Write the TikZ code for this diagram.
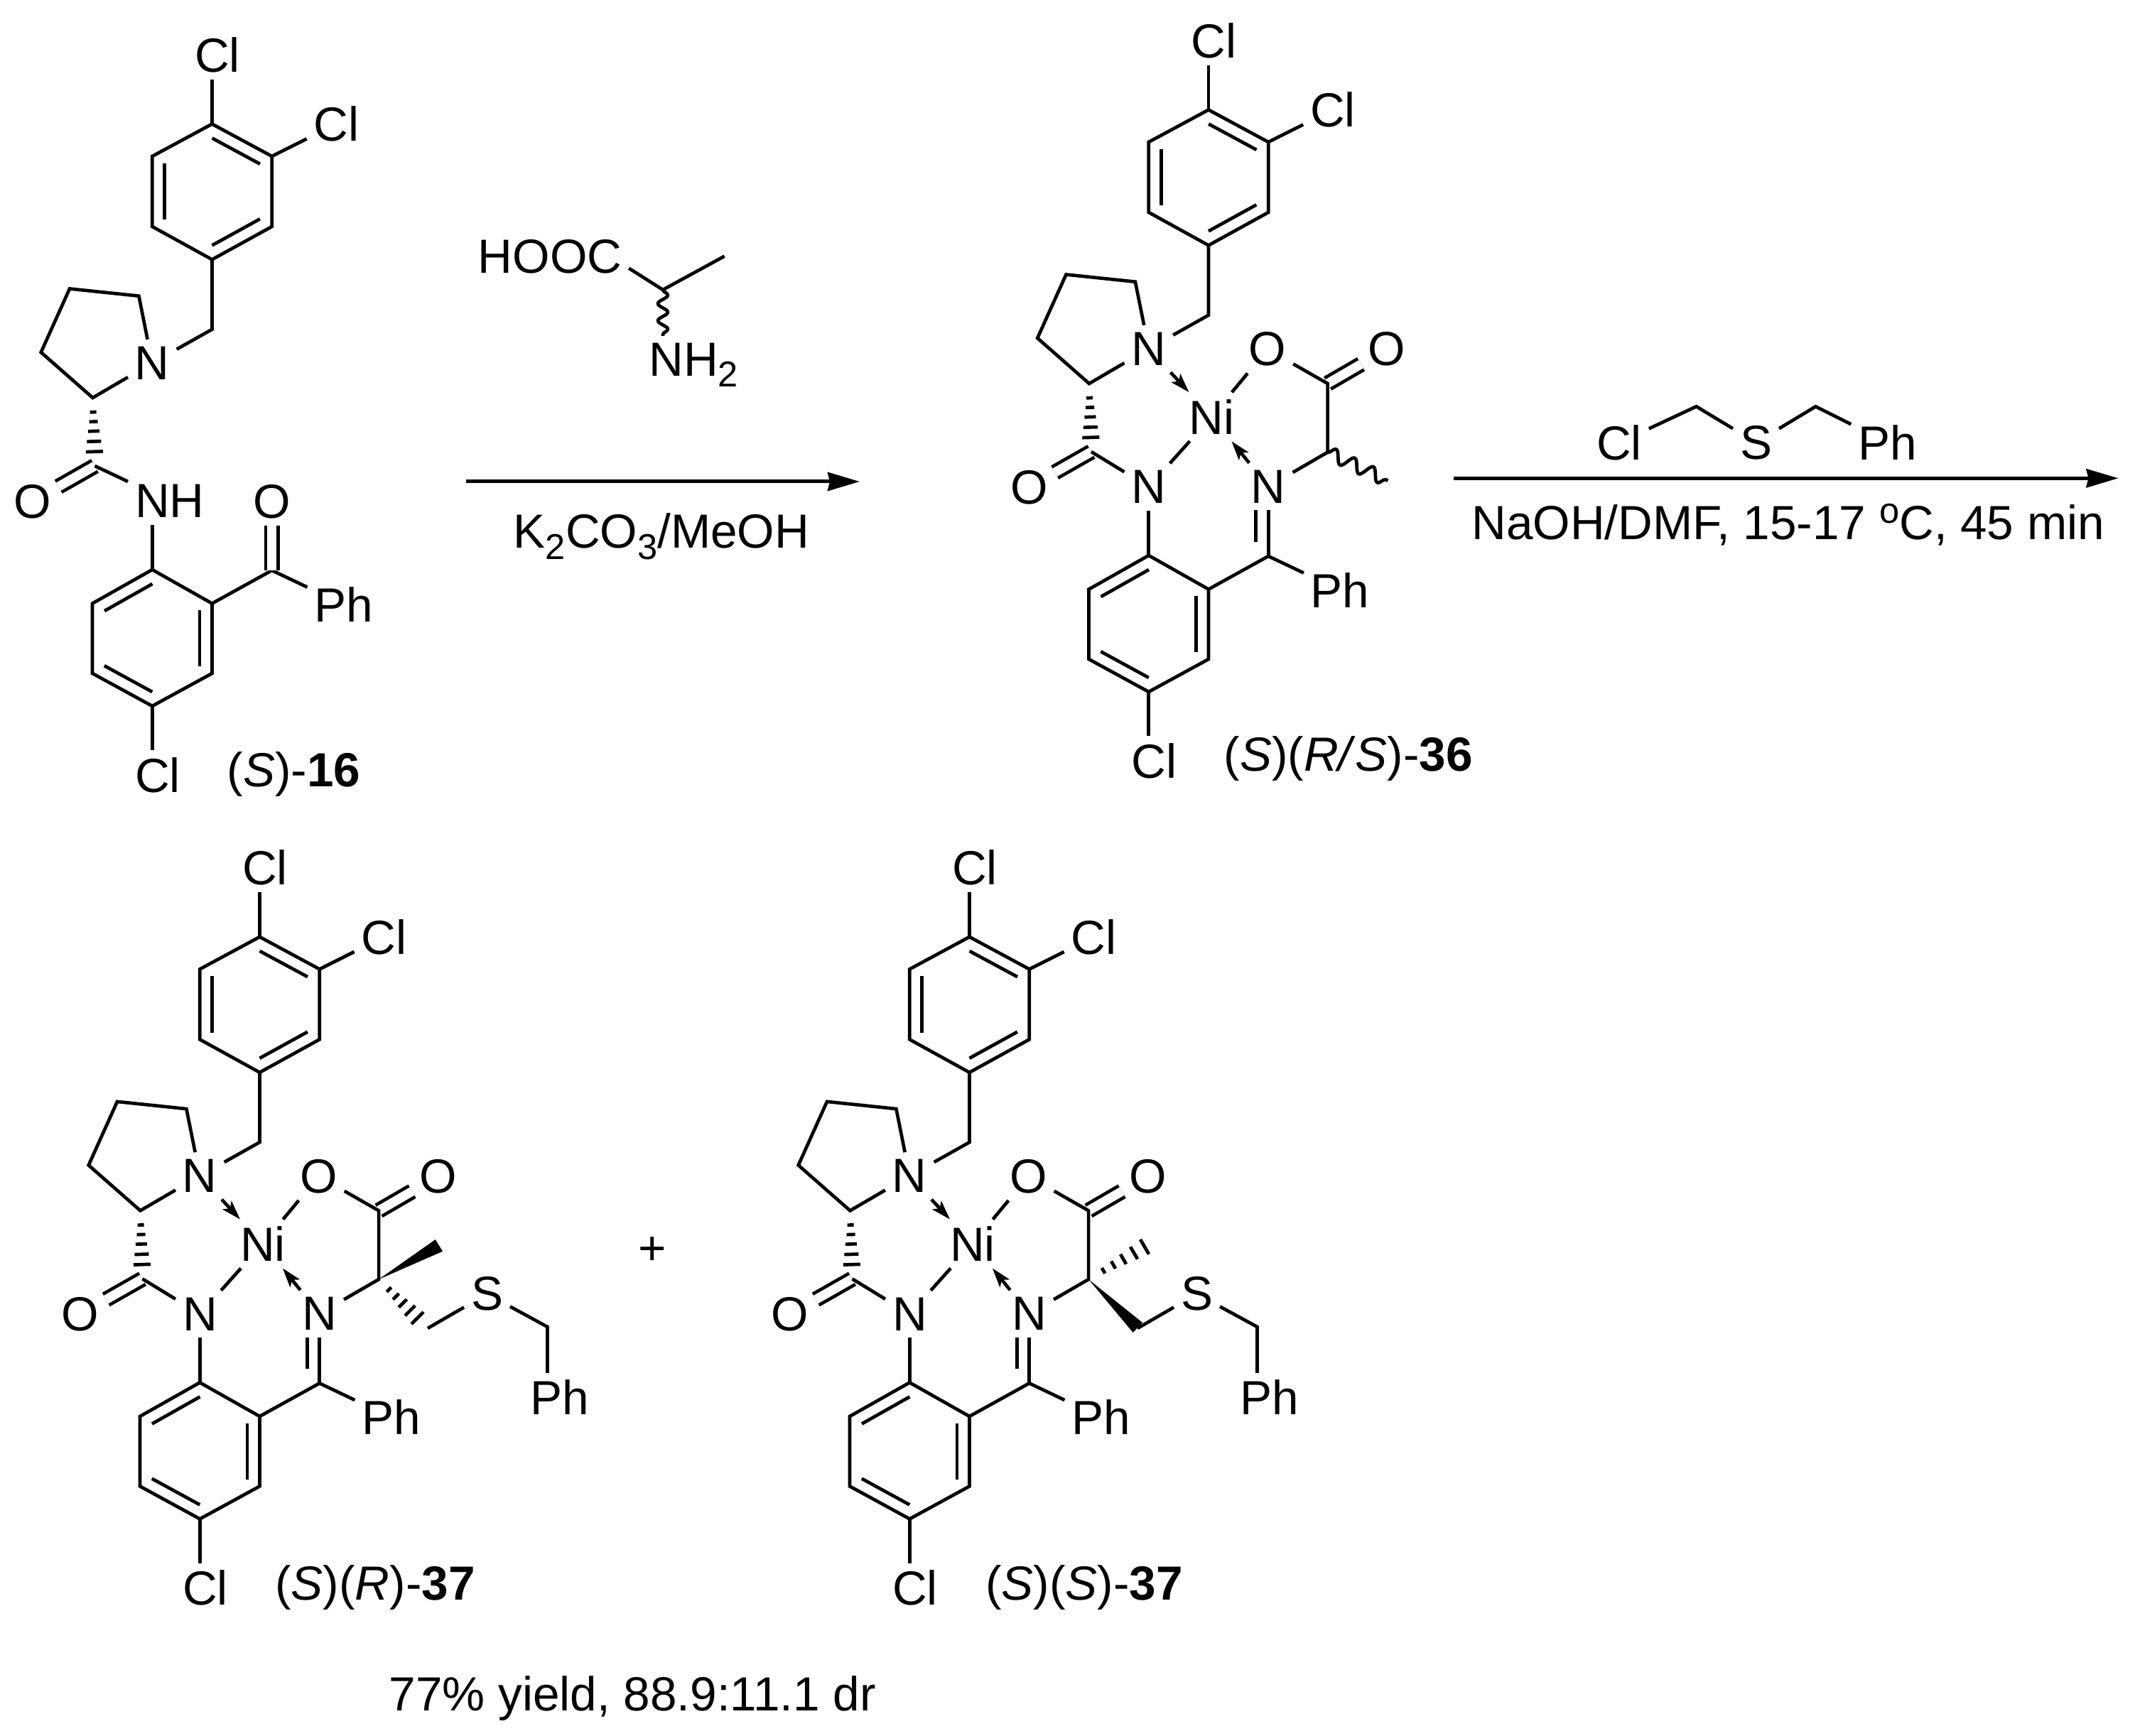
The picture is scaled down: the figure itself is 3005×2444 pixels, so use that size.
\documentclass[tikz,border=0pt]{standalone}
\usepackage{fontspec}
\setmainfont{Liberation Sans}
\usepackage{tikz}
\usetikzlibrary{
	arrows.meta,
	calc,
	decorations.pathmorphing,
	}

\newcommand{\chemsize}{\fontsize{19.2}{22}\selectfont}
\newcommand{\lowidx}[1]{\raisebox{-1.57mm}{\fontsize{14.4}{14}\selectfont #1}}
\newcommand{\highidx}[1]{\raisebox{2.3mm}{\fontsize{14.4}{14}\selectfont #1}}

\tikzset{
	atom/.style={font=\chemsize, inner sep=1mm, outer sep=0pt},
	caption/.style={font=\chemsize, inner sep=0pt, anchor=base west},
	bond/.style={line width=0.47mm},
	dblbond/.style={line width=0.47mm, double, double distance=1.3mm},
	dative/.style={line width=0.47mm, -{Stealth[length=2.7mm, width=1.7mm, inset=0.6mm]}},
	rxn/.style={line width=0.5mm, -{Stealth[length=4.5mm, width=2.6mm, inset=0.3mm]}},
	wavy/.style={line width=0.47mm, line join=round, decorate, decoration={snake, segment length=2.9mm, amplitude=0.9mm}},
}

% second line of a double bond, inside the ring (go round clockwise)
\newcommand{\inbond}[2]{
	\draw[bond] ($(#1)!.1!(#2)!1.75mm!-90:(#2)$) -- ($(#2)!.1!(#1)!1.75mm!90:(#1)$);
}
% hashed bond
\newcommand{\hashbond}[2]{
	\foreach \t/\w in {.21/.45, .35/.6, .49/.8, .64/1, .79/1.2}
		\draw[bond] ($(#1)!\t!(#2)!\w mm!90:(#2)$) -- ($(#1)!\t!(#2)!\w mm!-90:(#2)$);
}

% the part all four molecules share
\newcommand{\ligand}[2]{
	\coordinate (#1a1) at (298.5,174.6);
	\coordinate (#1a2) at (382.7,220);
	\coordinate (#1a3) at (382.7,319);
	\coordinate (#1a4) at (298.5,365.4);
	\coordinate (#1a5) at (214.3,319);
	\coordinate (#1a6) at (214.3,220);
	\coordinate (#1ch) at (298.5,463.7);
	\coordinate (#1p1) at (195.4,416.7);
	\coordinate (#1p2) at (98,406.5);
	\coordinate (#1p3) at (57.7,496);
	\coordinate (#1p4) at (130.5,560);
	\coordinate (#1am) at (133.5,656);
	\coordinate (#1b1) at (214.3,802);
	\coordinate (#1b2) at (298.5,849.6);
	\coordinate (#1b3) at (298.5,948);
	\coordinate (#1b4) at (214.3,994);
	\coordinate (#1b5) at (130,948);
	\coordinate (#1b6) at (130,849.6);
	\coordinate (#1k) at (382.7,803);
	\node[atom] (#1cla) at (306,77) {Cl};
	\node[atom] (#1clb) at (473.5,174.6) {Cl};
	\node[atom] (#1n) at (214.3,511) {N};
	\node[atom] (#1oa) at (46,705.8) {O};
	\node[atom, anchor=west] (#1nb) at (180,705.5) {#2};
	\node[atom] (#1ph) at (483.7,851) {Ph};
	\node[atom] (#1clc) at (222,1091) {Cl};
	\draw[bond] (#1a1) -- (#1a2) -- (#1a3) -- (#1a4) -- (#1a5) -- (#1a6) -- cycle;
	\inbond{#1a1}{#1a2}
	\inbond{#1a3}{#1a4}
	\inbond{#1a5}{#1a6}
	\draw[bond] (#1a1) -- (#1a1 |- #1cla.south);
	\draw[bond] (#1a2) -- (#1clb);
	\draw[bond] (#1a4) -- (#1ch) -- (#1n);
	\draw[bond] (#1n) -- (#1p1) -- (#1p2) -- (#1p3) -- (#1p4) -- (#1n);
	\hashbond{#1p4}{#1am}
	\draw[dblbond] (#1am) -- (#1oa);
	\draw[bond] (#1am) -- (#1nb);
	\draw[bond] (#1b1) -- (#1b1 |- #1nb.south);
	\draw[bond] (#1b1) -- (#1b2) -- (#1b3) -- (#1b4) -- (#1b5) -- (#1b6) -- cycle;
	\inbond{#1b6}{#1b1}
	\inbond{#1b2}{#1b3}
	\inbond{#1b4}{#1b5}
	\draw[bond] (#1b2) -- (#1k) -- (#1ph);
	\draw[bond] (#1b4) -- (#1b4 |- #1clc.north);
}

% nickel centre with the amino acid part
\newcommand{\nicore}[1]{
	\node[atom] (#1ni) at (302.9,606.7) {Ni};
	\node[atom] (#1oc) at (381.5,511.7) {O};
	\node[atom] (#1od) at (549.3,511.7) {O};
	\node[atom] (#1nc) at (382.7,705) {N};
	\coordinate (#1co) at (466.1,560);
	\coordinate (#1ca) at (466.1,656.7);
	\draw[dblbond] (#1co) -- (#1od);
	\draw[bond] (#1oc) -- (#1co) -- (#1ca) -- (#1nc);
	\draw[bond] (#1oc) -- (#1ni);
	\draw[bond] (#1nb) -- (#1ni);
	\draw[dative] (#1n) -- (#1ni);
	\draw[dative] (#1nc) -- (#1ni);
	\draw[bond] (#1k) -- (#1k |- #1nc.south);
	\draw[bond] ($(#1k)+(-17.5,-20)$) -- ($(#1k |- #1nc.south)+(-17.5,0)$);
}

% CH2-S-CH2-Ph
\newcommand{\sidechain}[1]{
	\coordinate (#1sa) at (535,725.6);
	\coordinate (#1sb) at (703.5,723.6);
	\node[atom] (#1s) at (618.5,677.3) {S};
	\node[atom] (#1pi) at (720.7,823) {Ph};
	\draw[bond] (#1sa) -- (#1s) -- (#1sb) -- (#1sb |- #1pi.north);
}

\begin{document}
\begin{tikzpicture}[x=0.1mm, y=-0.1mm]
	\useasboundingbox (0,0) rectangle (3005,2444);

	% (S)-16
	\ligand{u}{NH}
	\node[atom] (uoe) at (382.7,705.8) {O};
	\draw[dblbond] (uk) -- (uoe);
	\node[caption] (ulabel) at (319,1108) {(\textit{S})-\textbf{16}};

	% alanine and first arrow
	\node[atom] (hooc) at (774,361.7) {HOOC};
	\coordinate (ala) at (933,408);
	\coordinate (alame) at (1019.6,360.7);
	\node[atom, anchor=base west] (amino) at (903.5,529.3) {NH\lowidx{2}};
	\draw[bond] (ala) -- ([yshift=-1.6mm]hooc.east);
	\draw[bond] (ala) -- (alame);
	\draw[wavy, decoration={segment length=2.4mm, amplitude=0.7mm}] (ala) -- (ala |- amino.north);
	\coordinate (arrowa) at (656,678);
	\coordinate (arrowb) at (1210,678);
	\draw[rxn] (arrowa) -- (arrowb);
	\node[atom, anchor=base] (conda) at (931,771.7) {K\lowidx{2}CO\lowidx{3}/MeOH};

	% (S)(R/S)-36
	\begin{scope}[shift={(1402.5,-20)}]
		\ligand{v}{N}
		\nicore{v}
		\coordinate (vme) at (551.1,696.7);
		\draw[wavy] (vca) -- (vme);
		\node[caption] (vlabel) at (319.5,1106) {(\textit{S})(\textit{R/\kern0.5mm S})-\textbf{36}};
	\end{scope}

	% reagent and second arrow
	\node[atom] (rcl) at (2279,623) {Cl};
	\node[atom] (rs) at (2471.5,623) {S};
	\node[atom] (rph) at (2656.5,623) {Ph};
	\coordinate (rca) at (2387.6,572.3);
	\coordinate (rcb) at (2555.5,572.3);
	\draw[bond] (rcl) -- (rca) -- (rs) -- (rcb) -- (rph);
	\coordinate (arrowc) at (2045.5,673.3);
	\coordinate (arrowd) at (2981.5,673.3);
	\draw[rxn] (arrowc) -- (arrowd);
	\node[atom, anchor=base] (condb) at (2516.7,760) {NaOH/DMF, 15-17 \highidx{o}C, 45 min};

	% (S)(R)-37
	\begin{scope}[shift={(67,1144.4)}]
		\ligand{w}{N}
		\nicore{w}
		\sidechain{w}
		\coordinate (wwa) at (556,617.3);
		\coordinate (wwb) at (545.8,600.6);
		\fill (wca) -- (wwa) -- (wwb) -- cycle;
		\hashbond{wca}{wsa}
		\node[caption] (wlabel) at (319.7,1107.6) {(\textit{S})(\textit{R})-\textbf{37}};
	\end{scope}

	\node[atom] (plus) at (918,1761) {+};

	% (S)(S)-37
	\begin{scope}[shift={(1066,1144.4)}]
		\ligand{z}{N}
		\nicore{z}
		\sidechain{z}
		\coordinate (zwa) at (542,717.6);
		\coordinate (zwb) at (528.7,731.6);
		\coordinate (zme) at (566,598.7);
		\fill (zca) -- (zwa) -- (zwb) -- cycle;
		\hashbond{zca}{zme}
		\node[caption] (zlabel) at (320.7,1107.6) {(\textit{S})(\textit{S})-\textbf{37}};
	\end{scope}

	\node[caption] (yield) at (547,2408) {77\% yield, 88.9:11.1 dr};
\end{tikzpicture}
\end{document}
